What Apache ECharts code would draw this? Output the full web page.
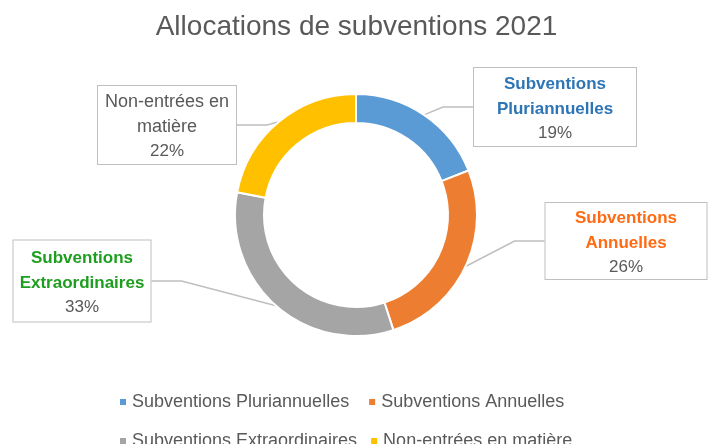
<!DOCTYPE html>
<html>
<head>
<meta charset="utf-8">
<script src="https://cdn.jsdelivr.net/npm/echarts@6/dist/echarts.min.js"></script>
<style>
    html, body { margin: 0; padding: 0; background: #ffffff; }
    #chart { width: 713px; height: 444px; }
</style>
</head>
<body>
<div id="chart"></div>
<script>
    // données
    var categories = ['Subventions Pluriannuelles', 'Subventions Annuelles', 'Subventions Extraordinaires', 'Non-entrées en matière'];
    var values = [19, 26, 33, 22];
    var colors = ['#5B9BD5', '#ED7D31', '#A5A5A5', '#FFC000'];
    var labelNames = ['Subventions\nPluriannuelles', 'Subventions\nAnnuelles', 'Subventions\nExtraordinaires', 'Non-entrées en\nmatière'];

    // position / style des étiquettes (boîtes)
    var labelBoxes = [
        {x: 555, y: 107, w: 164, h: 80, color: '#2E75B6', bold: true},
        {x: 626, y: 241, w: 163, h: 78, color: '#FF6A13', bold: true},
        {x: 82,  y: 281, w: 139, h: 83, color: '#1E9E1E', bold: true},
        {x: 167, y: 125, w: 140, h: 80, color: '#595959', bold: false}
    ];
    var lineH = 24.5;

    var font = 'Liberation Sans, Arial, sans-serif';
    var chart = echarts.init(document.getElementById('chart'));

    var seriesData = values.map(function (v, i) {
        var b = labelBoxes[i];
        var free = b.h - 2 - 3 * lineH;
        return {
            name: categories[i],
            value: v,
            itemStyle: {color: colors[i]},
            label: {
                formatter: '{n|' + labelNames[i].split('\n').join('}\n{n|') + '}\n{p|{d}%}',
                width: b.w - 2,
                padding: [free / 2 + 2, 0, free / 2 - 2, 0],
                rich: {
                    n: {
                        color: b.color,
                        fontWeight: b.bold ? 'bold' : 'normal',
                        fontSize: b.bold ? 17 : 18,
                        lineHeight: lineH,
                        fontFamily: font,
                        align: 'center'
                    },
                    p: {
                        color: '#595959',
                        fontSize: 17,
                        lineHeight: lineH,
                        fontFamily: font,
                        align: 'center'
                    }
                }
            }
        };
    });

    var legendText = {color: '#595959', fontSize: 18, fontFamily: font};

    var option = {
        animation: false,
        textStyle: {fontFamily: font},
        title: {
            text: 'Allocations de subventions 2021',
            left: 'center',
            top: 8,
            textStyle: {
                color: '#595959',
                fontSize: 28,
                fontWeight: 'normal',
                fontFamily: font
            }
        },
        legend: [
            {
                data: categories.slice(0, 2),
                left: 113,
                top: 388,
                itemWidth: 8,
                itemHeight: 8,
                itemGap: 18,
                icon: 'rect',
                textStyle: legendText
            },
            {
                data: categories.slice(2, 4),
                left: 113,
                top: 427,
                itemWidth: 8,
                itemHeight: 8,
                itemGap: 12,
                icon: 'rect',
                textStyle: legendText
            }
        ],
        series: [
            {
                type: 'pie',
                center: [356, 215],
                radius: [92, 121],
                startAngle: 90,
                clockwise: true,
                itemStyle: {borderColor: '#ffffff', borderWidth: 2},
                label: {
                    show: true,
                    position: 'outside',
                    backgroundColor: '#ffffff',
                    borderColor: '#BFBFBF',
                    borderWidth: 1,
                    align: 'center',
                    verticalAlign: 'middle'
                },
                labelLine: {
                    show: true,
                    lineStyle: {color: '#BFBFBF', width: 1.5}
                },
                labelLayout: function (params) {
                    var b = labelBoxes[params.dataIndex];
                    return {
                        x: b.x,
                        y: b.y,
                        align: 'center',
                        verticalAlign: 'middle'
                    };
                },
                emphasis: {disabled: true},
                data: seriesData
            }
        ]
    };
    chart.setOption(option);
</script>
</body>
</html>
